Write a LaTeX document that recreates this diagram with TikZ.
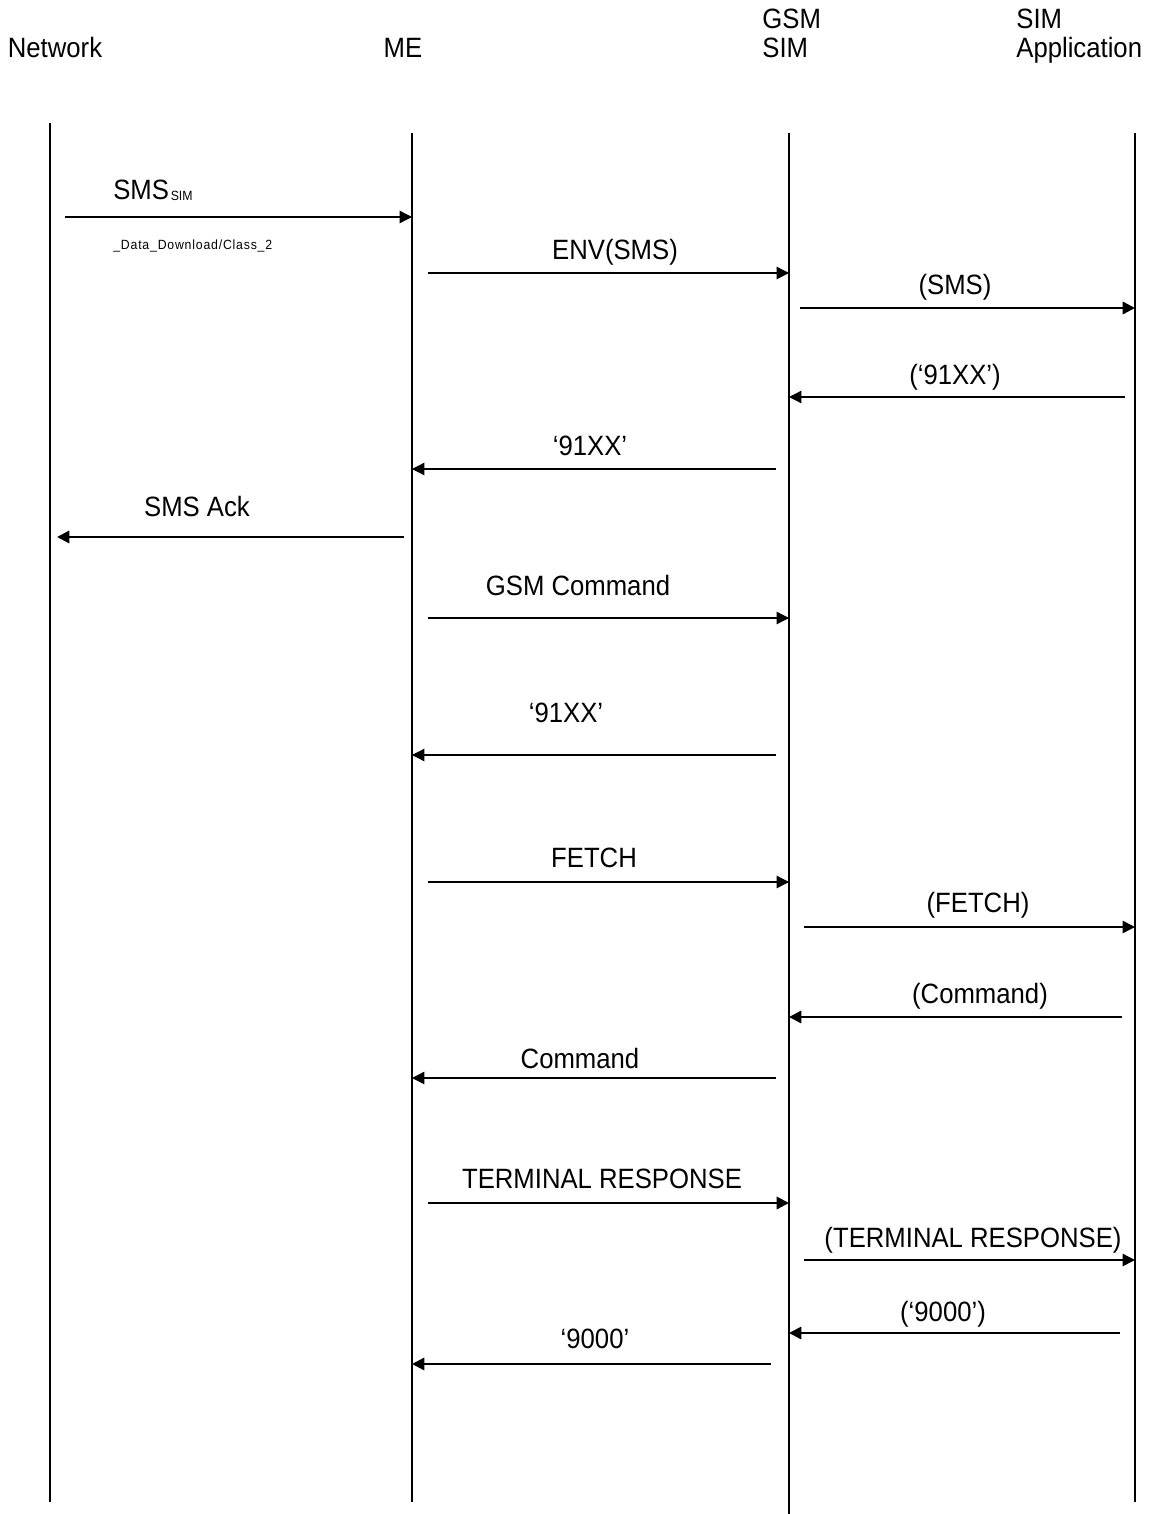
\documentclass[tikz,border=0pt]{standalone}
\usepackage{fontspec}
\setmainfont{Liberation Sans}[FakeStretch=0.92]
\newfontfamily\tinyfont{Liberation Sans}[FakeStretch=0.92,LetterSpace=6]
\usetikzlibrary{arrows.meta}

\begin{document}
\begin{tikzpicture}[x=0.02cm,y=-0.02cm,>={Triangle[length=7pt,width=7pt]},
  font=\fontsize{15.9}{17}\selectfont,
  life/.style={line width=1.4pt},
  msg/.style={->,line width=0.75pt},
  msgb/.style={->,line width=1.3pt},
  lbl/.style={anchor=base,inner sep=0pt}]
  \useasboundingbox (0,0) rectangle (1151,1514);
  % headers
  \node[lbl] (hNet) at (55,58) {Network};
  \node[lbl] (hMe) at (403,58) {ME};
  \node[lbl,anchor=base west,align=left] (hSim) at (762,58) {GSM\\SIM};
  \node[lbl,anchor=base west,align=left] (hApp) at (1016,58) {SIM\\Application};
  % lifelines
  \coordinate (netT) at (50,123);   \coordinate (netB) at (50,1502);
  \coordinate (meT) at (412,133);   \coordinate (meB) at (412,1502);
  \coordinate (simT) at (789,133);  \coordinate (simB) at (789,1514);
  \coordinate (appT) at (1135,133); \coordinate (appB) at (1135,1502);
  \draw[life] (netT) -- (netB);
  \draw[life] (meT) -- (meB);
  \draw[line width=0.75pt] (simT) -- (simB);
  \draw[life] (appT) -- (appB);
  % SMS download
  \coordinate (sSms) at (65,217);
  \draw[msg] (sSms) -- (meT |- sSms);
  \node[lbl,anchor=base west] (lSms) at (113,199)
    {SMS\kern1pt{\fontsize{7.6}{8}\selectfont\raisebox{-1pt}{SIM}}};
  \node[lbl,anchor=base west,font=\tinyfont\fontsize{7.6}{9}\selectfont] (lDl) at (113,249)
    {\textunderscore Data\textunderscore Download/Class\textunderscore 2};
  \coordinate (sEnv) at (428,273);
  \draw[msg] (sEnv) -- (simT |- sEnv);
  \node[lbl] (lEnv) at (615,259) {ENV(SMS)};
  \coordinate (sSms2) at (800,308);
  \draw[msgb] (sSms2) -- (appT |- sSms2);
  \node[lbl] (lSms2) at (955,294) {(SMS)};
  \coordinate (sRa) at (1125,397);
  \draw[msg] (sRa) -- (simT |- sRa);
  \node[lbl] (lRa) at (955,384) {(`91XX')};
  \coordinate (sRb) at (776,469);
  \draw[msg] (sRb) -- (meT |- sRb);
  \node[lbl] (lRb) at (590,455) {`91XX'};
  \coordinate (sAck) at (404,537); \coordinate (eAck) at (57,537);
  \draw[msgb] (sAck) -- (eAck);
  \node[lbl] (lAck) at (197,516) {SMS Ack};
  % GSM command
  \coordinate (sCmd) at (428,618);
  \draw[msg] (sCmd) -- (simT |- sCmd);
  \node[lbl] (lCmd) at (578,595) {GSM Command};
  \coordinate (sRc) at (776,755);
  \draw[msg] (sRc) -- (meT |- sRc);
  \node[lbl] (lRc) at (566,722) {`91XX'};
  % fetch
  \coordinate (sFet) at (428,882);
  \draw[msg] (sFet) -- (simT |- sFet);
  \node[lbl] (lFet) at (594,867) {FETCH};
  \coordinate (sFet2) at (804,927);
  \draw[msg] (sFet2) -- (appT |- sFet2);
  \node[lbl] (lFet2) at (978,912) {(FETCH)};
  \coordinate (sPc) at (1122,1017);
  \draw[msgb] (sPc) -- (simT |- sPc);
  \node[lbl] (lPc) at (980,1003) {(Command)};
  \coordinate (sPc2) at (776,1078);
  \draw[msg] (sPc2) -- (meT |- sPc2);
  \node[lbl] (lPc2) at (580,1068) {Command};
  % terminal response
  \coordinate (sTr) at (428,1203);
  \draw[msgb] (sTr) -- (simT |- sTr);
  \node[lbl] (lTr) at (602,1188) {TERMINAL RESPONSE};
  \coordinate (sTr2) at (804,1260);
  \draw[msg] (sTr2) -- (appT |- sTr2);
  \node[lbl] (lTr2) at (973,1247) {(TERMINAL RESPONSE)};
  \coordinate (sOk) at (1120,1333);
  \draw[msgb] (sOk) -- (simT |- sOk);
  \node[lbl] (lOk) at (943,1321) {(`9000')};
  \coordinate (sOk2) at (771,1364);
  \draw[msgb] (sOk2) -- (meT |- sOk2);
  \node[lbl] (lOk2) at (595,1348) {`9000'};
\end{tikzpicture}
\end{document}
